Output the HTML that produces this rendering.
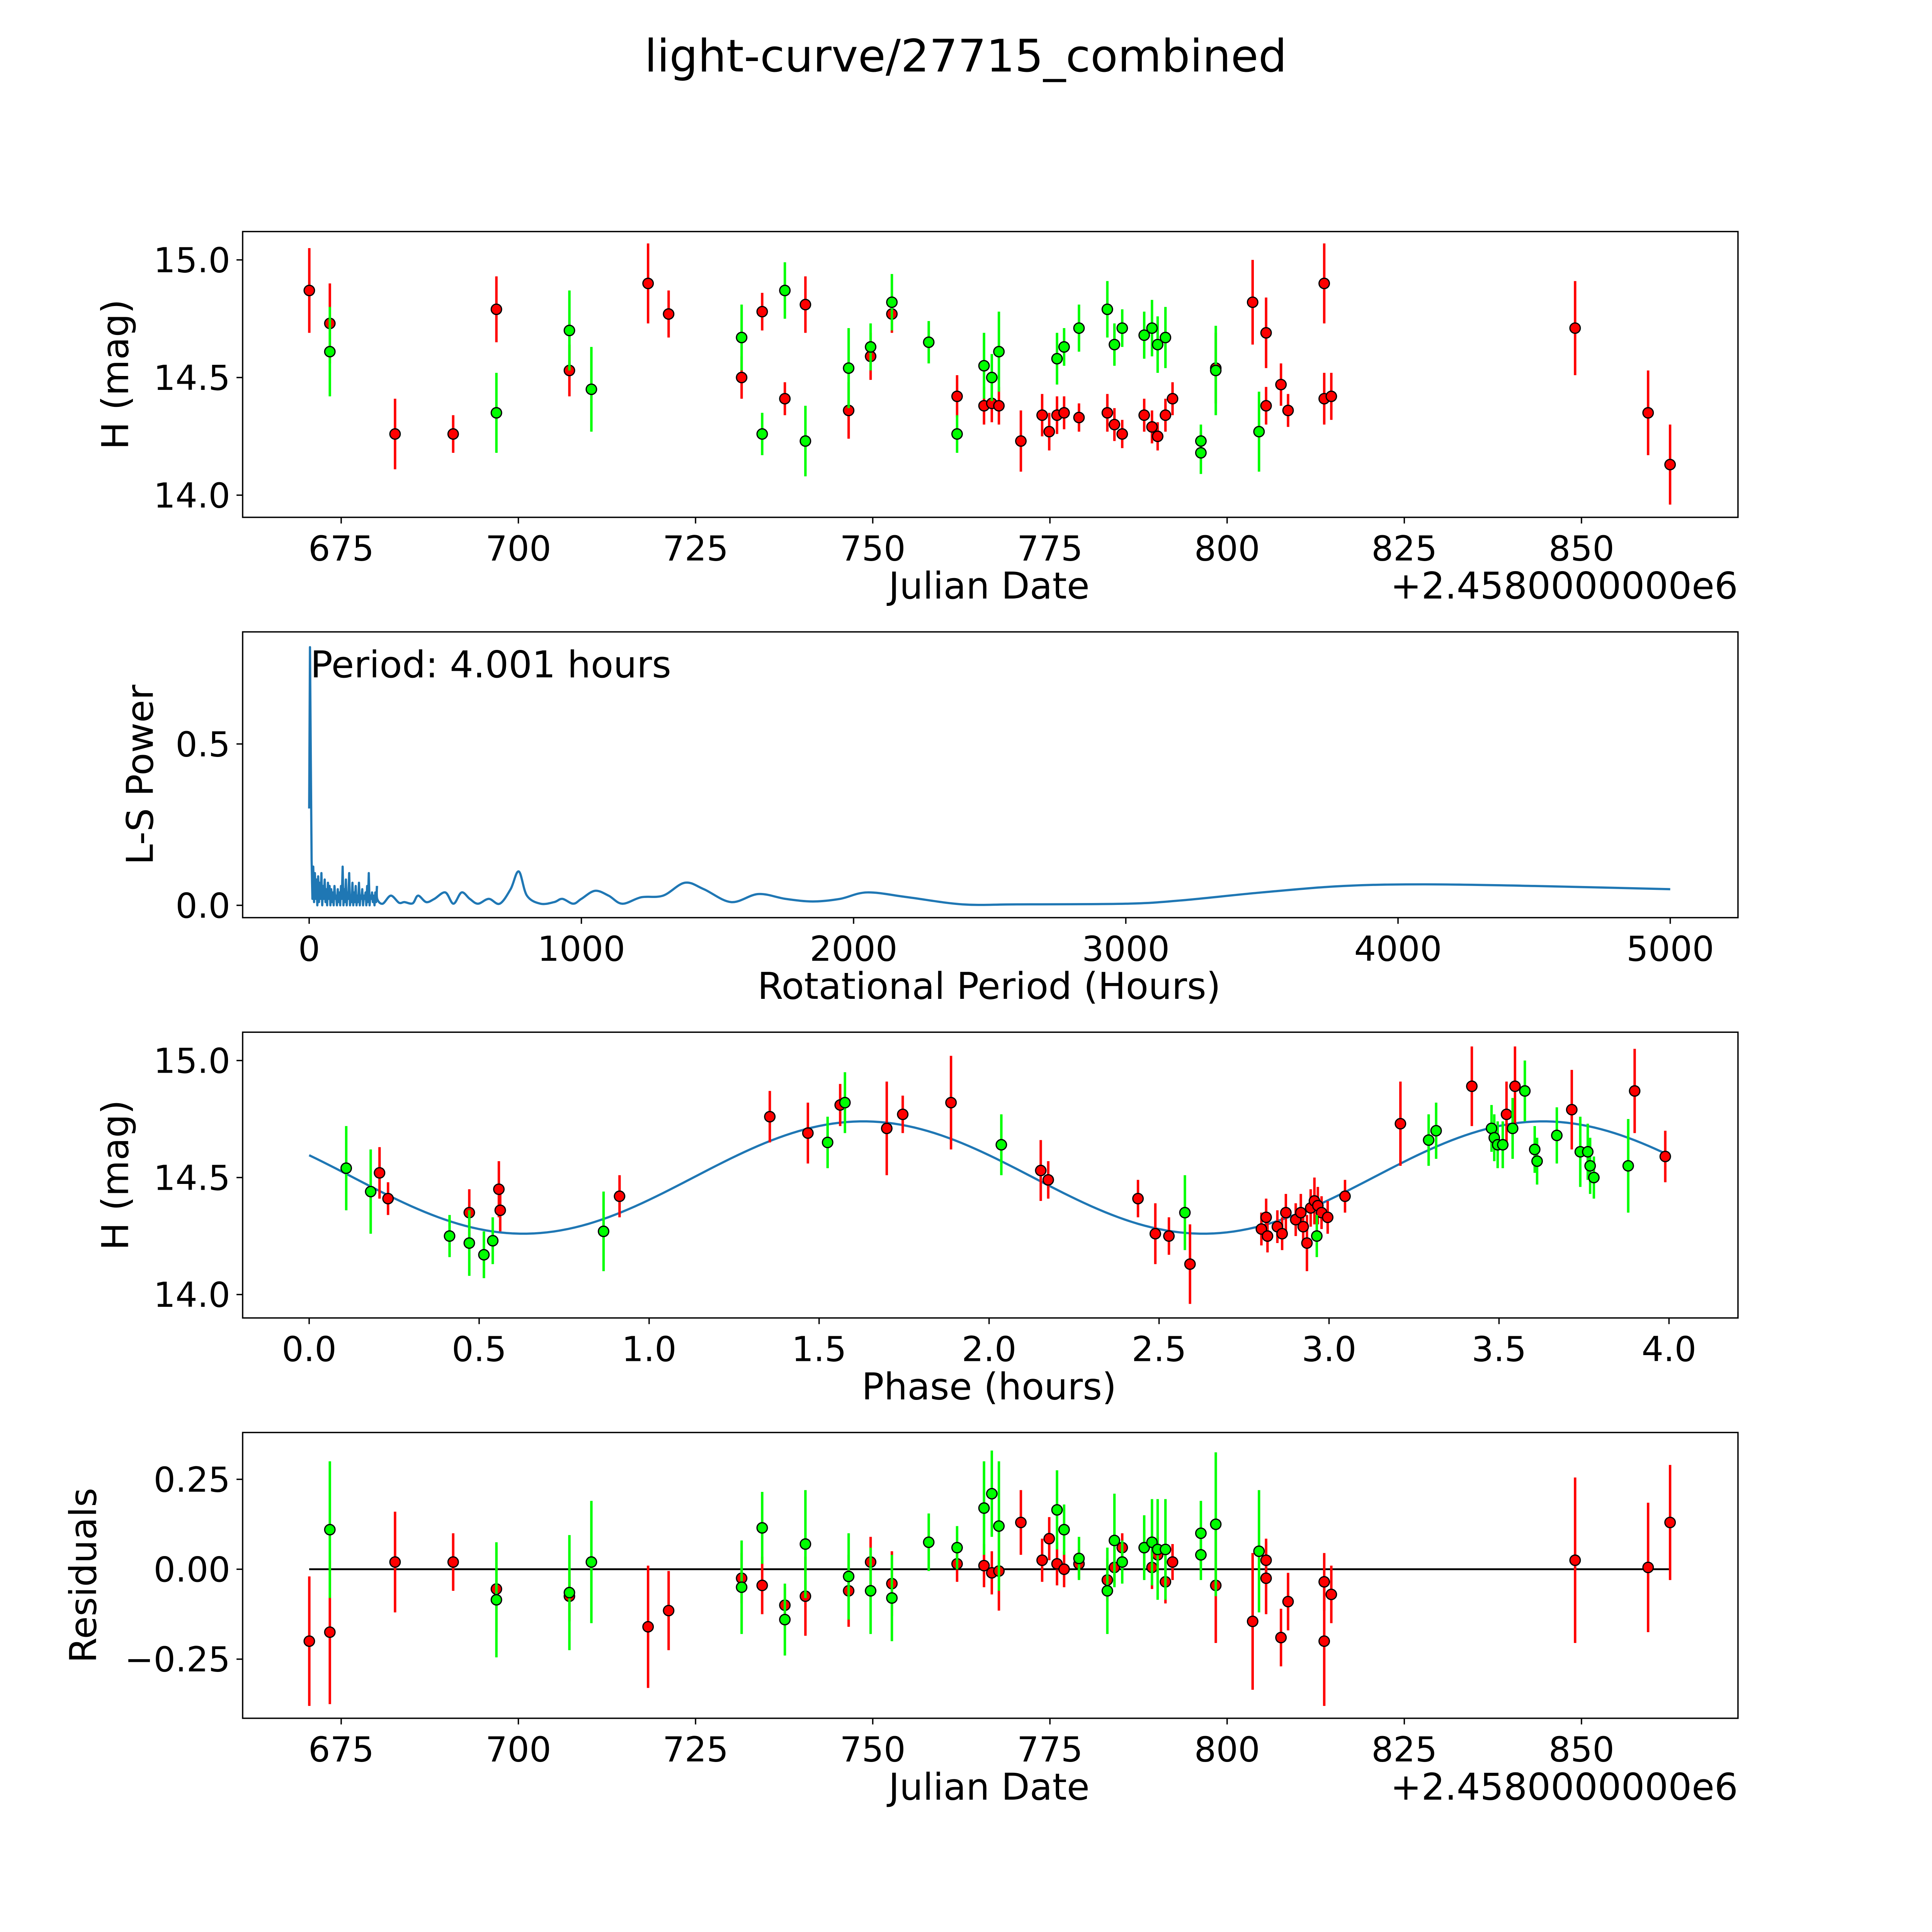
<!DOCTYPE html>
<html><head><meta charset="utf-8"><style>
html,body{margin:0;padding:0;background:#fff;overflow:hidden;}
svg{display:block;}
text{font-family:"DejaVu Sans","Liberation Sans",sans-serif;fill:#000;}
</style></head><body>
<svg id="fig" xmlns="http://www.w3.org/2000/svg" width="5400" height="5400" viewBox="0 0 1694 1694">
<rect x="0" y="0" width="1694" height="1694" fill="#fff"/>
<text x="784" y="58" font-size="36.4" text-anchor="middle">light-curve/27715_combined</text>
<g id="p1"></g>
<g id="p2"></g>
<g id="p3"></g>
<g id="p4"></g>
</svg>
<script>
// ---- Panel 1: light curve ----
const p1RedJd=[670.5,673.4,682.6,690.8,696.9,707.2,718.3,721.2,731.5,734.4,737.6,740.5,746.6,749.7,752.7,761.9,765.7,766.8,767.8,770.9,773.9,774.9,776.0,777.0,779.1,783.1,784.1,785.2,788.3,789.4,790.2,791.3,792.3,798.4,803.6,805.5,805.5,807.6,808.6,813.7,813.7,814.7,849.1,859.4,862.5];
const p1RedMag=[14.87,14.73,14.26,14.26,14.79,14.53,14.9,14.77,14.5,14.78,14.41,14.81,14.36,14.59,14.77,14.42,14.38,14.39,14.38,14.23,14.34,14.27,14.34,14.35,14.33,14.35,14.3,14.26,14.34,14.29,14.25,14.34,14.41,14.54,14.82,14.69,14.38,14.47,14.36,14.9,14.41,14.42,14.71,14.35,14.13];
const p1RedErr=[0.18,0.17,0.15,0.08,0.14,0.11,0.17,0.1,0.09,0.08,0.07,0.12,0.12,0.1,0.08,0.09,0.08,0.08,0.08,0.13,0.09,0.08,0.08,0.07,0.06,0.08,0.07,0.06,0.07,0.07,0.06,0.07,0.07,0.15,0.18,0.15,0.08,0.09,0.07,0.17,0.11,0.1,0.2,0.18,0.17];
const p1GreenJd=[673.4,696.9,707.2,710.3,731.5,734.4,737.6,740.5,746.6,749.7,752.7,757.9,761.9,765.7,766.8,767.8,776.0,777.0,779.1,783.1,784.1,785.2,788.3,789.4,790.2,791.3,796.3,796.3,798.4,804.5];
const p1GreenMag=[14.61,14.35,14.7,14.45,14.67,14.26,14.87,14.23,14.54,14.63,14.82,14.65,14.26,14.55,14.5,14.61,14.58,14.63,14.71,14.79,14.64,14.71,14.68,14.71,14.64,14.67,14.23,14.18,14.53,14.27];
const p1GreenErr=[0.19,0.17,0.17,0.18,0.14,0.09,0.12,0.15,0.17,0.1,0.12,0.09,0.08,0.14,0.1,0.17,0.11,0.08,0.1,0.12,0.09,0.08,0.1,0.12,0.12,0.13,0.07,0.09,0.19,0.17];
const p1XTicks=[675,700,725,750,775,800,825,850];
const p1YTicks=[14.0,14.5,15.0];
const p1YLabels=["14.0","14.5","15.0"];

// ---- Panel 2: periodogram ----
const spikeStep=3;
const spikePower=[0.3,0.8,0.45,0.14,0.02,0.12,0.01,0.1,0.02,0.08,0.0,0.09,0.01,0.07,0.02,0.1,0.0,0.06,0.02,0.08,0.01,0.05,0.0,0.07,0.02,0.06,0.0,0.05,0.01,0.04,0.0,0.06,0.02,0.03,0.0,0.05,0.01,0.04,0.0,0.06,0.02,0.12,0.0,0.05,0.01,0.08,0.0,0.04,0.02,0.1,0.0,0.03,0.01,0.07,0.0,0.04,0.01,0.06,0.0,0.03,0.01,0.07,0.0,0.03,0.02,0.05,0.0,0.03,0.02,0.04,0.0,0.06,0.01,0.1,0.0,0.03,0.02,0.04,0.01,0.03,0.0,0.04,0.01,0.06];
const smoothPeriod=[250,270,300,330,350,380,400,430,460,500,530,560,590,620,660,700,740,770,800,850,900,930,970,1000,1050,1100,1150,1220,1300,1380,1450,1550,1650,1750,1850,1950,2050,2200,2400,2600,3000,3200,3500,3800,4100,4500,5000];
const smoothPower=[0.02,0.005,0.03,0.008,0.01,0.006,0.03,0.01,0.02,0.04,0.005,0.04,0.02,0.005,0.02,0.005,0.05,0.105,0.03,0.005,0.01,0.02,0.005,0.02,0.045,0.03,0.005,0.025,0.03,0.07,0.05,0.01,0.035,0.02,0.012,0.02,0.04,0.025,0.003,0.003,0.005,0.015,0.04,0.06,0.065,0.06,0.05];
const p2XTicks=[0,1000,2000,3000,4000,5000];
const p2YTicks=[0.0,0.5];
const p2YLabels=["0.0","0.5"];

// ---- Panel 3: phased ----
const p3RedPhase=[0.207,0.232,0.471,0.558,0.562,0.913,1.355,1.467,1.562,1.699,1.746,1.888,2.152,2.174,2.438,2.489,2.529,2.591,2.801,2.815,2.819,2.848,2.862,2.873,2.902,2.917,2.924,2.935,2.946,2.957,2.967,2.978,2.996,3.047,3.210,3.420,3.522,3.547,3.714,3.899,3.989];
const p3RedMag=[14.52,14.41,14.35,14.45,14.36,14.42,14.76,14.69,14.81,14.71,14.77,14.82,14.53,14.49,14.41,14.26,14.25,14.13,14.28,14.33,14.25,14.29,14.26,14.35,14.32,14.35,14.29,14.22,14.37,14.4,14.38,14.35,14.33,14.42,14.73,14.89,14.77,14.89,14.79,14.87,14.59];
const p3RedErr=[0.11,0.07,0.1,0.12,0.09,0.09,0.11,0.13,0.09,0.2,0.08,0.2,0.13,0.08,0.08,0.13,0.08,0.17,0.07,0.08,0.07,0.07,0.07,0.08,0.07,0.08,0.08,0.12,0.08,0.1,0.08,0.07,0.07,0.07,0.18,0.17,0.14,0.17,0.17,0.18,0.11];
const p3GreenPhase=[0.109,0.181,0.413,0.471,0.514,0.540,0.866,1.525,1.576,2.036,2.576,2.964,3.293,3.315,3.478,3.486,3.496,3.511,3.540,3.576,3.605,3.612,3.670,3.739,3.761,3.768,3.779,3.880];
const p3GreenMag=[14.54,14.44,14.25,14.22,14.17,14.23,14.27,14.65,14.82,14.64,14.35,14.25,14.66,14.7,14.71,14.67,14.64,14.64,14.71,14.87,14.62,14.57,14.68,14.61,14.61,14.55,14.5,14.55];
const p3GreenErr=[0.18,0.18,0.09,0.14,0.1,0.1,0.17,0.11,0.13,0.13,0.16,0.09,0.11,0.12,0.1,0.1,0.1,0.1,0.13,0.13,0.1,0.1,0.12,0.15,0.12,0.12,0.09,0.2];
const modelMean=14.5, modelAmp=0.24, modelPeakPhase=1.63, modelHalfPeriod=1.0;
const p3XTicks=[0,0.5,1,1.5,2,2.5,3,3.5,4];
const p3XLabels=["0.0","0.5","1.0","1.5","2.0","2.5","3.0","3.5","4.0"];

// ---- Panel 4: residuals ----
const p4RedJd=[670.5,673.4,682.6,690.8,696.9,707.2,718.3,721.2,731.5,734.4,737.6,740.5,746.6,749.7,752.7,761.9,765.7,766.8,767.8,770.9,773.9,774.9,776.0,777.0,779.1,783.1,784.1,785.2,788.3,789.4,790.2,791.3,792.3,798.4,803.6,805.5,805.5,807.6,808.6,813.7,813.7,814.7,849.1,859.4,862.5];
const p4RedRes=[-0.2,-0.175,0.02,0.02,-0.055,-0.075,-0.16,-0.115,-0.025,-0.045,-0.1,-0.075,-0.06,0.02,-0.04,0.015,0.01,-0.01,-0.005,0.13,0.025,0.085,0.015,0,0.015,-0.03,0.005,0.06,0.06,0.005,0.04,-0.035,0.02,-0.045,-0.145,-0.025,0.025,-0.19,-0.09,-0.2,-0.035,-0.07,0.025,0.005,0.13];
const p4RedErr=[0.18,0.2,0.14,0.08,0.12,0.07,0.17,0.11,0.07,0.08,0.05,0.11,0.1,0.07,0.09,0.05,0.06,0.06,0.11,0.09,0.06,0.06,0.06,0.05,0.04,0.06,0.05,0.04,0.05,0.06,0.05,0.06,0.05,0.16,0.19,0.1,0.06,0.08,0.08,0.18,0.08,0.08,0.23,0.18,0.16];
const p4GreenJd=[673.4,696.9,707.2,710.3,731.5,734.4,737.6,740.5,746.6,749.7,752.7,757.9,761.9,765.7,766.8,767.8,776.0,777.0,779.1,783.1,784.1,785.2,788.3,789.4,790.2,791.3,796.3,796.3,798.4,804.5];
const p4GreenRes=[0.11,-0.085,-0.065,0.02,-0.05,0.115,-0.14,0.07,-0.02,-0.06,-0.08,0.075,0.06,0.17,0.21,0.12,0.165,0.11,0.03,-0.06,0.08,0.02,0.06,0.075,0.055,0.055,0.1,0.04,0.125,0.05];
const p4GreenErr=[0.19,0.16,0.16,0.17,0.13,0.1,0.1,0.15,0.12,0.12,0.12,0.08,0.06,0.13,0.12,0.18,0.11,0.07,0.06,0.12,0.13,0.06,0.09,0.12,0.14,0.14,0.09,0.07,0.2,0.17];
const p4YTicks=[-0.25,0,0.25];
const p4YLabels=["\u22120.25","0.00","0.25"];

const NS="http://www.w3.org/2000/svg";
function mk(parent,tag,attrs){const e=document.createElementNS(NS,tag);for(const k in attrs)e.setAttribute(k,attrs[k]);parent.appendChild(e);return e;}
const L=197,R=1411;
const xJd=j=>277+(j-675)*5.754;
const y1=m=>211+(15-m)*191;
const xP=p=>251+p*0.221;
const y2=w=>735-w*262;
const xPh=p=>251+p*276;
const y3=m=>861+(15-m)*190;
const y4=r=>1274-r*292;

function frame(g,top,bot,xt,xl,xs,yt,yl,ys,xlabel,ylabel,ylx,offset){
  const r=mk(g,'rect',{x:L,y:top,width:R-L,height:bot-top,fill:'none',stroke:'#000','stroke-width':1.1});
  
  
  xt.forEach((v,i)=>{const x=xs(v);
    const t=mk(g,'line',{x1:x,x2:x,y1:bot,y2:bot+5,stroke:'#000','stroke-width':1.1});
    
    
    const tx=mk(g,'text',{x:x,y:bot+35,'font-size':28,'text-anchor':'middle'});tx.textContent=xl[i];
    
    });
  yt.forEach((v,i)=>{const y=ys(v);
    const t=mk(g,'line',{x1:L-5,x2:L,y1:y,y2:y,stroke:'#000','stroke-width':1.1});
    
    
    const tx=mk(g,'text',{x:L-10,y:y+10,'font-size':28,'text-anchor':'end'});tx.textContent=yl[i];
    
    });
  const xa=mk(g,'text',{x:803,y:bot+66,'font-size':30,'text-anchor':'middle'});xa.textContent=xlabel;
  
  
  const cy=(top+bot)/2;
  const ya=mk(g,'text',{x:ylx,y:cy,'font-size':30,'text-anchor':'middle',transform:`rotate(-90 ${ylx} ${cy})`});ya.textContent=ylabel;
  
  
  if(offset){const o=mk(g,'text',{x:R,y:bot+66,'font-size':30,'text-anchor':'end'});o.textContent=offset;
    
    }
}
function points(g,xs,ys,xv,yv,ev,col){
  xv.forEach((xx,i)=>{const x=xs(xx);
    const l=mk(g,'line',{x1:x,x2:x,y1:ys(yv[i]+ev[i]),y2:ys(yv[i]-ev[i]),stroke:col,'stroke-width':2});
    
    });
  xv.forEach((xx,i)=>{
    const c=mk(g,'circle',{cx:xs(xx),cy:ys(yv[i]),r:4.2,fill:col,stroke:'#000','stroke-width':1});
    
    });
}
const RED='#ff0000',GRN='#00ff00';
const jdLabels=p1XTicks.map(String);
// Panel 1
const g1=document.getElementById('p1');
frame(g1,188,420,p1XTicks,jdLabels,xJd,p1YTicks,p1YLabels,y1,'Julian Date','H (mag)',104,'+2.4580000000e6');
points(g1,xJd,y1,p1RedJd,p1RedMag,p1RedErr,RED);
points(g1,xJd,y1,p1GreenJd,p1GreenMag,p1GreenErr,GRN);
// Panel 2
const g2=document.getElementById('p2');
frame(g2,513,745,p2XTicks,p2XTicks.map(String),xP,p2YTicks,p2YLabels,y2,'Rotational Period (Hours)','L-S Power',124,null);
let sp=[];
spikePower.forEach((w,i)=>{sp.push([xP(i*spikeStep),y2(w)]);});
const spl=mk(g2,'polyline',{points:sp.map(p=>p.join(',')).join(' '),fill:'none',stroke:'#1f77b4','stroke-width':1.8,'stroke-linejoin':'round'});


let sm=[sp[sp.length-1]];
smoothPeriod.forEach((p,i)=>{sm.push([xP(p),y2(smoothPower[i])]);});
let d='M'+sm[0][0]+','+sm[0][1];
for(let i=0;i<sm.length-1;i++){const p0=sm[Math.max(0,i-1)],p1=sm[i],p2=sm[i+1],p3=sm[Math.min(sm.length-1,i+2)];
  const c1x=p1[0]+(p2[0]-p0[0])/6,c1y=p1[1]+(p2[1]-p0[1])/6,c2x=p2[0]-(p3[0]-p1[0])/6,c2y=p2[1]-(p3[1]-p1[1])/6;
  d+=` C${c1x},${Math.min(735.5,c1y)} ${c2x},${Math.min(735.5,c2y)} ${p2[0]},${p2[1]}`;}
const pl=mk(g2,'path',{d:d,fill:'none',stroke:'#1f77b4','stroke-width':1.8});


const pt=mk(g2,'text',{x:252,y:550,'font-size':30});pt.textContent='Period: 4.001 hours';


// Panel 3
const g3=document.getElementById('p3');
frame(g3,838,1070,p3XTicks,p3XLabels,xPh,p1YTicks,p1YLabels,y3,'Phase (hours)','H (mag)',104,null);
let mp=[];for(let i=0;i<=200;i++){const p=4*i/200;mp.push(xPh(p)+','+y3(modelMean+modelAmp*Math.sin(Math.PI*(p-modelPeakPhase)/modelHalfPeriod+Math.PI/2)));}
const ml=mk(g3,'polyline',{points:mp.join(' '),fill:'none',stroke:'#1f77b4','stroke-width':1.8});


points(g3,xPh,y3,p3RedPhase,p3RedMag,p3RedErr,RED);
points(g3,xPh,y3,p3GreenPhase,p3GreenMag,p3GreenErr,GRN);
// Panel 4
const g4=document.getElementById('p4');
frame(g4,1163,1395,p1XTicks,jdLabels,xJd,p4YTicks,p4YLabels,y4,'Julian Date','Residuals',78,'+2.4580000000e6');
const zl=mk(g4,'line',{x1:251,x2:1356,y1:y4(0),y2:y4(0),stroke:'#000','stroke-width':1.5});


points(g4,xJd,y4,p4RedJd,p4RedRes,p4RedErr,RED);
points(g4,xJd,y4,p4GreenJd,p4GreenRes,p4GreenErr,GRN);
</script>
</body></html>
